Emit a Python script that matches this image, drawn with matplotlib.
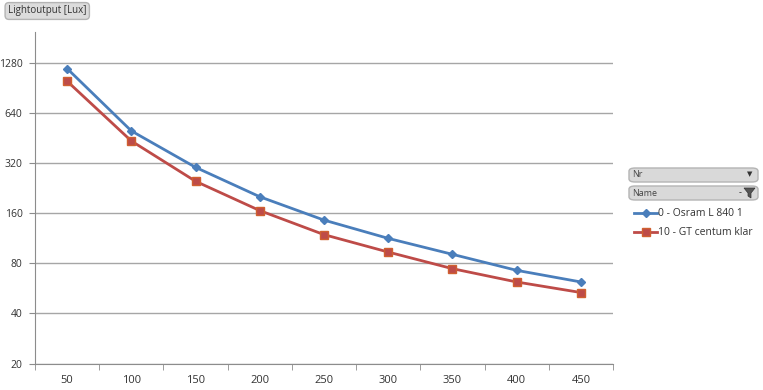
import matplotlib.pyplot as plt
from matplotlib.patches import FancyBboxPatch, Polygon
from matplotlib.ticker import FixedLocator, NullFormatter

categories = ["50", "100", "150", "200", "250", "300", "350", "400", "450"]
osram = [1185, 500, 302, 201, 145.5, 113, 90.6, 72.6, 61.8]
gt_centum = [995, 435, 249, 166, 119, 93.5, 74.3, 61.8, 53.4]
series_names = ["0 - Osram L 840 1", "10 - GT centum klar"]
y_ticks = [20, 40, 80, 160, 320, 640, 1280]

blue = "#4a7ebb"
red = "#be4b48"

plt.rcParams["font.family"] = ["Open Sans", "DejaVu Sans"]

fig = plt.figure(figsize=(7.63, 3.9), dpi=100)
ax = fig.add_axes([35 / 763, 1 - 363.5 / 390, (613 - 35) / 763, (363.5 - 32) / 390])

x = list(range(len(categories)))
ax.plot(x, osram, color=blue, lw=2, marker="D", ms=4.5, mfc=blue, mec=blue,
        label=series_names[0], zorder=3)
ax.plot(x, gt_centum, color=red, lw=2, marker="s", ms=6, mfc=red, mec="#d06030",
        label=series_names[1], zorder=3)

ax.set_yscale("log", base=2)
ax.set_ylim(20, 1965)
ax.yaxis.set_major_locator(FixedLocator(y_ticks))
ax.yaxis.set_minor_formatter(NullFormatter())
ax.yaxis.set_minor_locator(FixedLocator([]))
ax.set_yticklabels([str(v) for v in y_ticks])
ax.grid(axis="y", color="#a6a6a6", lw=1)
ax.set_axisbelow(True)

ax.set_xlim(-0.5, len(categories) - 0.5)
ax.set_xticks(x)
ax.set_xticklabels(categories)
ax.set_xticks([i - 0.5 for i in range(len(categories) + 1)], minor=True)
ax.tick_params(axis="x", which="major", length=0, pad=8, labelsize=8)
ax.tick_params(axis="x", which="minor", length=4, direction="out", color="#8c8c8c")
ax.tick_params(axis="y", length=4, direction="out", color="#8c8c8c", pad=5, labelsize=7.5)
ax.tick_params(labelcolor="#333333")

for s in ["top", "right"]:
    ax.spines[s].set_visible(False)
for s in ["left", "bottom"]:
    ax.spines[s].set_color("#8c8c8c")

# title field button
fig.text(8 / 763, 1 - 11 / 390, "Lightoutput [Lux]", fontsize=7, color="#333333",
         va="center", ha="left",
         bbox=dict(boxstyle="round,pad=0.3,rounding_size=0.4", fc="#dcdcdc", ec="#b4b4b4"))

# field buttons on the right
for top, label in [(168, "Nr"), (186, "Name")]:
    fig.patches.append(FancyBboxPatch((629 / 763, 1 - (top + 14) / 390), 129 / 763, 14 / 390,
                                      boxstyle="round,pad=0,rounding_size=0.008",
                                      transform=fig.transFigure, fc="#d9d9d9", ec="#b4b4b4"))
    fig.text(632 / 763, 1 - (top + 7) / 390, label, fontsize=6.5, color="#444444",
             va="center", ha="left")
fig.text(750 / 763, 1 - 175 / 390, "\u25bc", fontsize=5, color="#333333", va="center", ha="center")
fig.text(740 / 763, 1 - 193 / 390, "-", fontsize=6.5, color="#333333", va="center", ha="center")
funnel = Polygon([(744 / 763, 1 - 188 / 390), (755 / 763, 1 - 188 / 390),
                  (751 / 763, 1 - 193 / 390), (751 / 763, 1 - 198 / 390),
                  (748 / 763, 1 - 196 / 390), (748 / 763, 1 - 193 / 390)],
                 closed=True, transform=fig.transFigure, fc="#555555", ec="#333333", lw=0.5)
fig.patches.append(funnel)

fig.legend(loc="upper left", bbox_to_anchor=(625 / 763, 1 - 199 / 390), frameon=False,
           fontsize=7.5, handlelength=2.2, handletextpad=0.1, labelspacing=0.75,
           labelcolor="#333333")

fig.savefig("out.png", dpi=100)
